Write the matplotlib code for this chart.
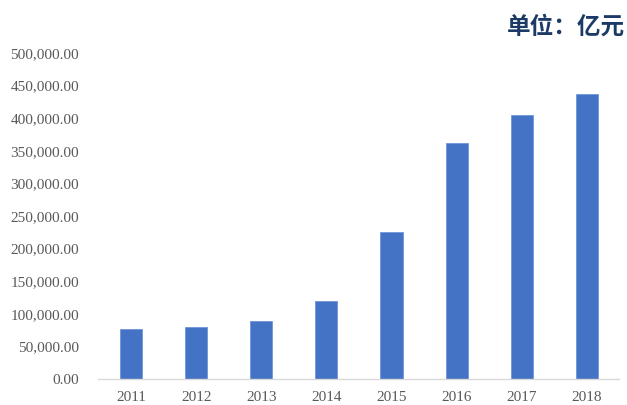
import matplotlib.pyplot as plt
from matplotlib.ticker import FuncFormatter

years = ['2011', '2012', '2013', '2014', '2015', '2016', '2017', '2018']
values = [76200, 80200, 88500, 119600, 225900, 361500, 404400, 436700]
y_ticks = [0, 50000, 100000, 150000, 200000, 250000, 300000, 350000, 400000, 450000, 500000]

fig = plt.figure(figsize=(6.27, 4.05), dpi=100)
ax = fig.add_axes([0.157, 0.0642, 0.831, 0.805])

x = range(len(years))
ax.bar(x, values, width=0.34, color='#4472C4', edgecolor='#6F95D8', linewidth=0.6)

ax.set_xlim(-0.5, len(years) - 0.5)
ax.set_ylim(0, 500000)
ax.set_yticks(y_ticks)
ax.yaxis.set_major_formatter(FuncFormatter(lambda v, p: f'{v:,.2f}'))
ax.set_xticks(list(x))
ax.set_xticklabels(years)

for side in ['top', 'right', 'left']:
    ax.spines[side].set_visible(False)
ax.spines['bottom'].set_color('#D9D9D9')
ax.spines['bottom'].set_linewidth(1)
ax.tick_params(axis='both', length=0, labelsize=11, labelcolor='#595959')
ax.tick_params(axis='y', pad=14)
ax.tick_params(axis='x', pad=8.5)
for lab in ax.get_xticklabels() + ax.get_yticklabels():
    lab.set_family('Liberation Serif')

fig.text(0.997, 0.935, '单位：亿元', ha='right', va='center', fontsize=17,
         fontweight='bold', color='#1B3A66', family=['Noto Sans CJK SC', 'DejaVu Sans'])

fig.savefig('out.png', dpi=100)
